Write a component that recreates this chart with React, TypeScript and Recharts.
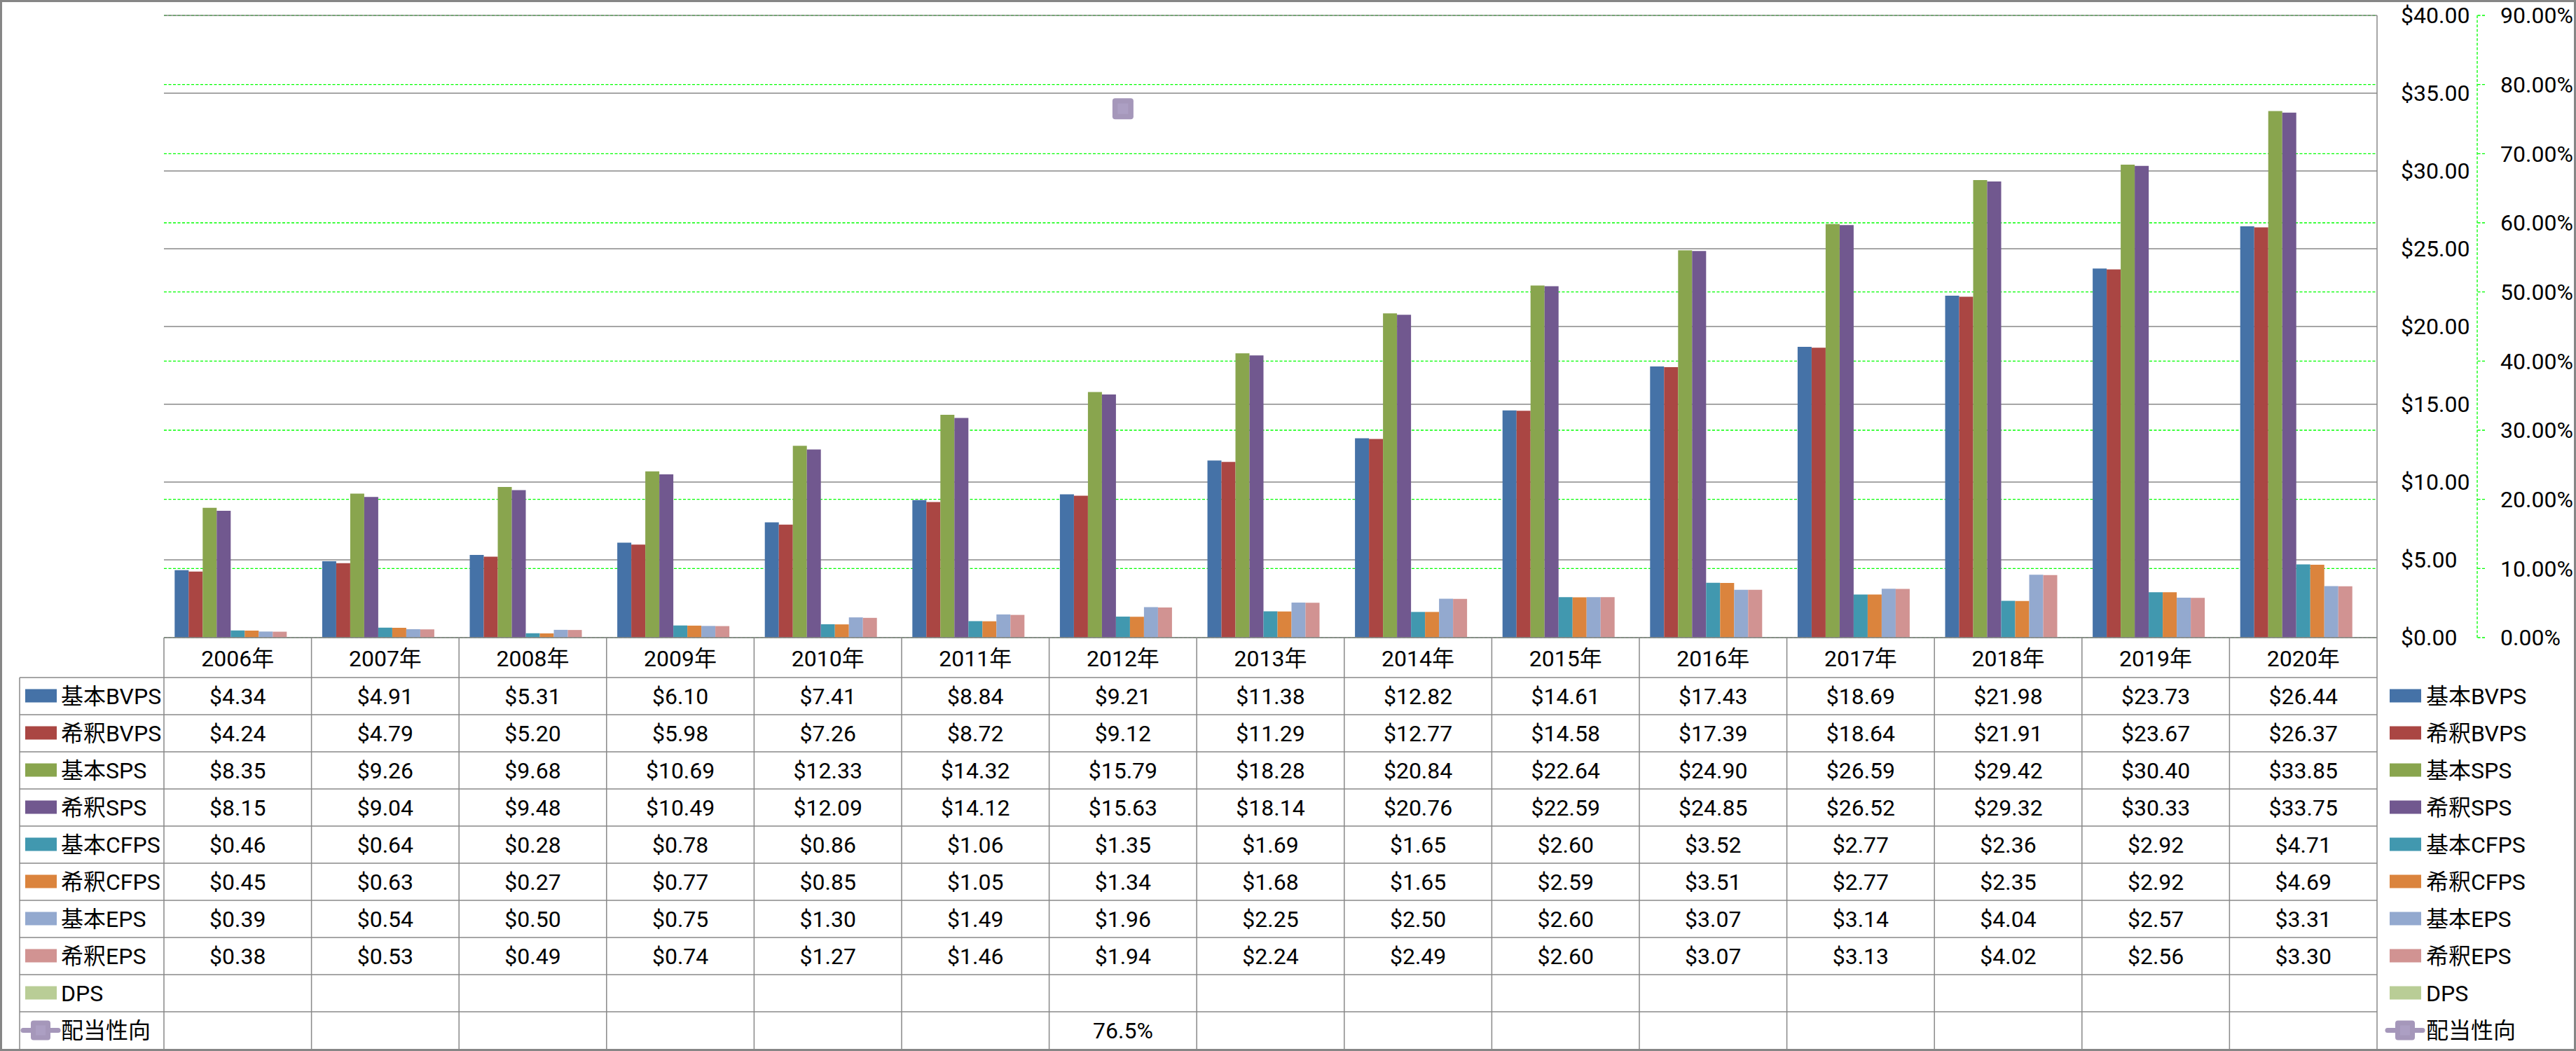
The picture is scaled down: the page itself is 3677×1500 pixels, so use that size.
import React from "react";
import { ComposedChart, Bar, Line, XAxis, YAxis, CartesianGrid } from "recharts";

const years = ["2006年", "2007年", "2008年", "2009年", "2010年", "2011年", "2012年", "2013年", "2014年", "2015年", "2016年", "2017年", "2018年", "2019年", "2020年"];

const basicBVPS = [4.34, 4.91, 5.31, 6.1, 7.41, 8.84, 9.21, 11.38, 12.82, 14.61, 17.43, 18.69, 21.98, 23.73, 26.44];
const dilutedBVPS = [4.24, 4.79, 5.2, 5.98, 7.26, 8.72, 9.12, 11.29, 12.77, 14.58, 17.39, 18.64, 21.91, 23.67, 26.37];
const basicSPS = [8.35, 9.26, 9.68, 10.69, 12.33, 14.32, 15.79, 18.28, 20.84, 22.64, 24.9, 26.59, 29.42, 30.4, 33.85];
const dilutedSPS = [8.15, 9.04, 9.48, 10.49, 12.09, 14.12, 15.63, 18.14, 20.76, 22.59, 24.85, 26.52, 29.32, 30.33, 33.75];
const basicCFPS = [0.46, 0.64, 0.28, 0.78, 0.86, 1.06, 1.35, 1.69, 1.65, 2.6, 3.52, 2.77, 2.36, 2.92, 4.71];
const dilutedCFPS = [0.45, 0.63, 0.27, 0.77, 0.85, 1.05, 1.34, 1.68, 1.65, 2.59, 3.51, 2.77, 2.35, 2.92, 4.69];
const basicEPS = [0.39, 0.54, 0.5, 0.75, 1.3, 1.49, 1.96, 2.25, 2.5, 2.6, 3.07, 3.14, 4.04, 2.57, 3.31];
const dilutedEPS = [0.38, 0.53, 0.49, 0.74, 1.27, 1.46, 1.94, 2.24, 2.49, 2.6, 3.07, 3.13, 4.02, 2.56, 3.3];
const dps: (number | null)[] = [null, null, null, null, null, null, null, null, null, null, null, null, null, null, null];
// payout ratio in %
const payoutRatio: (number | null)[] = [null, null, null, null, null, null, 76.5, null, null, null, null, null, null, null, null];

const usdTicks = [0, 5, 10, 15, 20, 25, 30, 35, 40];
const pctTicks = [0, 10, 20, 30, 40, 50, 60, 70, 80, 90];

const barSeries = [
  { key: "basicBVPS", name: "基本BVPS", color: "#4572A7", values: basicBVPS },
  { key: "dilutedBVPS", name: "希釈BVPS", color: "#AA4643", values: dilutedBVPS },
  { key: "basicSPS", name: "基本SPS", color: "#89A54E", values: basicSPS },
  { key: "dilutedSPS", name: "希釈SPS", color: "#71588F", values: dilutedSPS },
  { key: "basicCFPS", name: "基本CFPS", color: "#4198AF", values: basicCFPS },
  { key: "dilutedCFPS", name: "希釈CFPS", color: "#DB843D", values: dilutedCFPS },
  { key: "basicEPS", name: "基本EPS", color: "#93A9CF", values: basicEPS },
  { key: "dilutedEPS", name: "希釈EPS", color: "#D19392", values: dilutedEPS },
  { key: "dps", name: "DPS", color: "#B9CD96", values: dps },
];
const payoutName = "配当性向";
const payoutColor = "#A597BA";

const data = years.map((year, i) => {
  const row: Record<string, any> = { year, payout: payoutRatio[i] };
  barSeries.forEach((s) => {
    row[s.key] = s.values[i];
  });
  return row;
});

// layout
const W = 3677;
const H = 1500;
const PLOT_L = 234;
const PLOT_R = 3393;
const PLOT_T = 22;
const PLOT_B = 910;
const USD_AXIS_W = 143;
const PCT_AXIS_W = 130;
const TABLE_L = 28;
const HEADER_B = 967;
const TABLE_B = 1497;
const ROW_H = (TABLE_B - HEADER_B) / 10;
const COL_W = (PLOT_R - PLOT_L) / years.length;
const FONT = "Roboto, 'Noto Sans CJK JP', sans-serif";
const FS = 32;
const GRAY = "#898989";
const GREEN = "#00FF00";
const USD = "a_usd";
const PCT = "b_pct";

const fmtUsd = (v: number | null) => (v == null ? "" : `$${v.toFixed(2)}`);
const fmtPct = (v: number | null) => (v == null ? "" : `${v.toFixed(1)}%`);

const PayoutDot = (props: any) => {
  const { cx, cy, value, index } = props;
  if (value == null || cx == null || cy == null) return <g key={`pd-${index}`} />;
  return (
    <g key={`pd-${index}`}>
      <rect x={cx - 15} y={cy - 15} width={30} height={30} rx={4} fill={payoutColor} />
      <rect x={cx - 7.5} y={cy - 7.5} width={15} height={15} fill="#AC9FC3" />
    </g>
  );
};

const LineIcon = ({ x, cy }: { x: number; cy: number }) => (
  <g>
    <line x1={x} y1={cy} x2={x + 50} y2={cy} stroke={payoutColor} strokeWidth={7} strokeLinecap="round" />
    <rect x={x + 11} y={cy - 14} width={28} height={28} rx={4} fill={payoutColor} />
    <rect x={x + 18} y={cy - 7} width={14} height={14} fill="#AC9FC3" />
  </g>
);

const DataTable = () => {
  const rows = [
    ...barSeries.map((s) => ({ name: s.name, color: s.color, line: false, cells: s.values.map(fmtUsd) })),
    { name: payoutName, color: payoutColor, line: true, cells: payoutRatio.map(fmtPct) },
  ];
  return (
    <svg
      width={W}
      height={H}
      style={{ position: "absolute", left: 0, top: 0, pointerEvents: "none" }}
      fontFamily={FONT}
      fontSize={FS}
    >
      {/* outer frame */}
      <rect x={1.5} y={1.5} width={W - 3} height={H - 3} fill="none" stroke="#868686" strokeWidth={3} />
      {/* right border of plot + table */}
      <line x1={PLOT_R} y1={PLOT_T} x2={PLOT_R} y2={TABLE_B} stroke={GRAY} strokeWidth={1.5} />
      {/* category axis / header top */}
      <line x1={PLOT_L} y1={PLOT_B} x2={PLOT_R} y2={PLOT_B} stroke={GRAY} strokeWidth={1.5} />
      {/* column lines */}
      {years.map((_, i) => (
        <line key={`c${i}`} x1={PLOT_L + i * COL_W} y1={PLOT_B} x2={PLOT_L + i * COL_W} y2={TABLE_B} stroke={GRAY} strokeWidth={1.5} />
      ))}
      <line x1={TABLE_L} y1={HEADER_B} x2={TABLE_L} y2={TABLE_B} stroke={GRAY} strokeWidth={1.5} />
      {rows.map((_, r) => (
        <line key={`r${r}`} x1={TABLE_L} y1={HEADER_B + r * ROW_H} x2={PLOT_R} y2={HEADER_B + r * ROW_H} stroke={GRAY} strokeWidth={1.5} />
      ))}
      {/* header */}
      {years.map((y, i) => (
        <text key={`h${i}`} x={PLOT_L + (i + 0.5) * COL_W} y={(PLOT_B + HEADER_B) / 2 + 1} textAnchor="middle" dominantBaseline="central" fill="#000">
          {y}
        </text>
      ))}
      {rows.map((row, r) => {
        const cy = HEADER_B + (r + 0.5) * ROW_H;
        return (
          <g key={`row${r}`}>
            {row.line ? (
              <LineIcon x={33} cy={cy} />
            ) : (
              <rect x={36} y={cy - 10} width={45} height={19} fill={row.color} />
            )}
            <text x={87} y={cy} dominantBaseline="central" fill="#000">
              {row.name}
            </text>
            {row.cells.map((c, i) => (
              <text key={i} x={PLOT_L + (i + 0.5) * COL_W} y={cy} textAnchor="middle" dominantBaseline="central" fill="#000">
                {c}
              </text>
            ))}
            {/* right legend */}
            {row.line ? (
              <LineIcon x={3408} cy={cy} />
            ) : (
              <rect x={3411} y={cy - 10} width={45} height={19} fill={row.color} />
            )}
            <text x={3463} y={cy} dominantBaseline="central" fill="#000">
              {row.name}
            </text>
          </g>
        );
      })}
    </svg>
  );
};

export default function App() {
  return (
    <div style={{ position: "relative", width: W, height: H, background: "#fff" }}>
      <style>{"body{margin:0;background:#fff;}"}</style>
      <ComposedChart
        width={W}
        height={H}
        data={data}
        margin={{ top: PLOT_T, bottom: H - PLOT_B, left: PLOT_L, right: W - PLOT_R - USD_AXIS_W - PCT_AXIS_W }}
        barGap={0}
        barCategoryGap="7.27%"
      >
        <CartesianGrid yAxisId={PCT} vertical={false} stroke={GREEN} strokeWidth={1.3} strokeDasharray="4 2.5" />
        <CartesianGrid yAxisId={USD} vertical={false} stroke={GRAY} strokeWidth={1.4} />
        <XAxis dataKey="year" hide />
        <YAxis
          yAxisId={USD}
          orientation="right"
          width={USD_AXIS_W}
          domain={[0, 40]}
          ticks={usdTicks}
          tickFormatter={(v: number) => `$${v.toFixed(2)}`}
          axisLine={false}
          tickLine={false}
          tickSize={0}
          tickMargin={34}
          tick={{ fill: "#000", fontSize: FS, fontFamily: FONT }}
        />
        <YAxis
          yAxisId={PCT}
          orientation="right"
          width={PCT_AXIS_W}
          domain={[0, 90]}
          ticks={pctTicks}
          tickFormatter={(v: number) => `${v.toFixed(2)}%`}
          axisLine={{ stroke: GREEN, strokeWidth: 1.3, strokeDasharray: "4 2.5" }}
          tickLine={{ stroke: GREEN, strokeWidth: 1.3, strokeDasharray: "4 2.5" }}
          tickSize={11}
          tickMargin={22}
          tick={{ fill: "#000", fontSize: FS, fontFamily: FONT }}
        />
        {barSeries.map((s) => (
          <Bar key={s.key} yAxisId={USD} dataKey={s.key} name={s.name} fill={s.color} isAnimationActive={false} />
        ))}
        <Line
          yAxisId={PCT}
          dataKey="payout"
          name={payoutName}
          stroke={payoutColor}
          strokeWidth={7}
          dot={PayoutDot}
          activeDot={false}
          isAnimationActive={false}
        />
      </ComposedChart>
      <DataTable />
    </div>
  );
}
